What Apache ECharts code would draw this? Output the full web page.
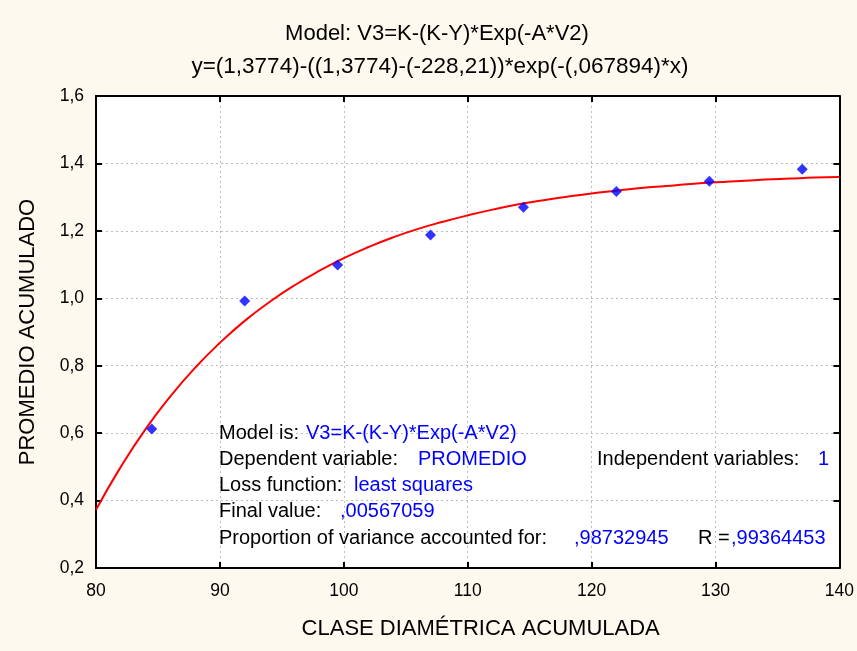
<!DOCTYPE html>
<html>
<head>
<meta charset="utf-8">
<script src="https://cdn.jsdelivr.net/npm/echarts@6/dist/echarts.min.js"></script>
<style>
html,body{margin:0;padding:0;background:#fdf9ee;}
#chart{width:857px;height:651px;}
</style>
</head>
<body>
<div id="chart"></div>
<script>
// Observed points (CLASE DIAMÉTRICA ACUMULADA vs PROMEDIO ACUMULADO)
var pointX = [84.5, 92, 99.5, 107, 114.5, 122, 129.5, 137];
var pointY = [0.612, 0.992, 1.099, 1.188, 1.270, 1.317, 1.347, 1.383];

// Fitted curve
var curveX = [80, 82, 84, 86, 88, 90, 92, 94, 96, 98, 100, 102, 104, 106, 108, 110, 112, 114, 116, 118, 120, 122, 124, 126, 128, 130, 132, 134, 136, 138, 140];
var curveY = [0.373, 0.500, 0.612, 0.709, 0.794, 0.868, 0.933, 0.989, 1.038, 1.081, 1.119, 1.152, 1.181, 1.206, 1.227, 1.246, 1.263, 1.278, 1.290, 1.301, 1.311, 1.319, 1.327, 1.333, 1.339, 1.344, 1.348, 1.352, 1.355, 1.358, 1.360];

var xTicks = [80, 90, 100, 110, 120, 130, 140];
var yTicks = [0.2, 0.4, 0.6, 0.8, 1.0, 1.2, 1.4, 1.6];

var titleLines = ['Model: V3=K-(K-Y)*Exp(-A*V2)', 'y=(1,3774)-((1,3774)-(-228,21))*exp(-(,067894)*x)'];
var xName = 'CLASE DIAMÉTRICA ACUMULADA';
var yName = 'PROMEDIO ACUMULADO';
var info = {
  model: 'V3=K-(K-Y)*Exp(-A*V2)',
  dependent: 'PROMEDIO',
  independent: '1',
  loss: 'least squares',
  finalValue: ',00567059',
  proportion: ',98732945',
  r: ',99364453'
};

var FONT = '"Liberation Sans", Arial, sans-serif';
var chart = echarts.init(document.getElementById('chart'));

function fmtComma(v) { return v.toFixed(1).replace('.', ','); }

var pts = pointX.map(function (x, i) { return [x, pointY[i]]; });
var curve = curveX.map(function (x, i) { return [x, curveY[i]]; });

function t(x, y, text, color, extra) {
  var s = { text: text, x: x, y: y, fontFamily: FONT, fontSize: 20, fill: color || '#000', textVerticalAlign: 'middle' };
  if (extra) for (var k in extra) s[k] = extra[k];
  return { type: 'text', style: s, z: 100 };
}

var commonAxisLine = { show: true, lineStyle: { color: '#000', width: 2 } };
var commonTick = { show: true, inside: true, length: 6, lineStyle: { color: '#000', width: 2 } };

chart.setOption({
  backgroundColor: '#fdf9ee',
  animation: false,
  grid: { left: 96, right: 17, top: 96, bottom: 83, show: true, backgroundColor: '#ffffff', borderWidth: 0 },
  xAxis: [{
    type: 'value', min: 80, max: 140, interval: 10,
    axisLine: commonAxisLine, axisTick: commonTick,
    axisLabel: { color: '#000', fontSize: 17.5, fontFamily: FONT, margin: 14 },
    splitLine: { show: true, lineStyle: { color: '#bdbdbd', type: [2, 3], width: 1 } },
    name: xName, nameLocation: 'middle', nameGap: 50,
    nameTextStyle: { color: '#000', fontSize: 22, fontFamily: FONT, padding: [0, 0, 0, 26] }
  }, {
    type: 'value', position: 'top', min: 80, max: 140, interval: 10,
    axisLine: commonAxisLine, axisTick: commonTick, axisLabel: { show: false }, splitLine: { show: false }
  }],
  yAxis: [{
    type: 'value', min: 0.2, max: 1.6, interval: 0.2,
    axisLine: commonAxisLine, axisTick: commonTick,
    axisLabel: { color: '#000', fontSize: 17.5, fontFamily: FONT, margin: 12, formatter: fmtComma },
    splitLine: { show: true, lineStyle: { color: '#bdbdbd', type: [2, 3], width: 1 } },
    name: yName, nameLocation: 'middle', nameGap: 57,
    nameTextStyle: { color: '#000', fontSize: 22, fontFamily: FONT }
  }, {
    type: 'value', position: 'right', min: 0.2, max: 1.6, interval: 0.2,
    axisLine: commonAxisLine, axisTick: commonTick, axisLabel: { show: false }, splitLine: { show: false }
  }],
  series: [{
    type: 'line', data: curve, smooth: true, showSymbol: false, symbol: 'none',
    lineStyle: { color: '#ff0000', width: 2 }, z: 3, clip: true
  }, {
    type: 'scatter', data: pts, symbol: 'diamond', symbolSize: 11,
    itemStyle: { color: '#0000ff' }, z: 4
  }],
  graphic: [
    t(437, 34, titleLines[0], '#000', { textAlign: 'center', fontSize: 22 }),
    t(440, 67, titleLines[1], '#000', { textAlign: 'center', fontSize: 22.5 }),
    t(219, 433, 'Model is: ', '#000'),
    t(306, 433, info.model, '#0000ff'),
    t(219, 459, 'Dependent variable:', '#000'),
    t(418, 459, info.dependent, '#0000ff'),
    t(597, 459, 'Independent variables:', '#000'),
    t(818, 459, info.independent, '#0000ff'),
    t(219, 485, 'Loss function:', '#000'),
    t(354, 485, info.loss, '#0000ff'),
    t(219, 511, 'Final value:', '#000'),
    t(340, 511, info.finalValue, '#0000ff'),
    t(219, 538, 'Proportion of variance accounted for:', '#000'),
    t(574, 538, info.proportion, '#0000ff'),
    t(698, 538, 'R =', '#000'),
    t(731, 538, info.r, '#0000ff')
  ]
});
</script>
</body>
</html>
